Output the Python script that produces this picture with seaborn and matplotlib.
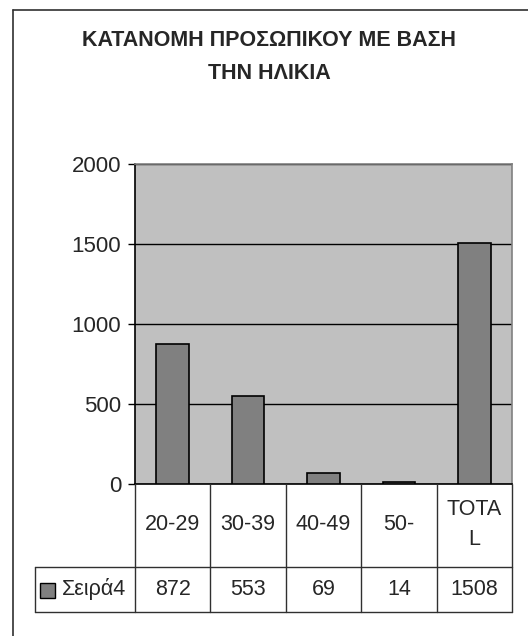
import matplotlib
matplotlib.use("Agg")
import matplotlib.pyplot as plt
from matplotlib.lines import Line2D
from matplotlib.patches import Rectangle
import seaborn as sns
import pandas as pd

# Staff by age group
categories = ["20-29", "30-39", "40-49", "50-", "TOTAL"]
category_labels = ["20-29", "30-39", "40-49", "50-", "TOTA\nL"]
values = [872, 553, 69, 14, 1508]
series_name = "Σειρά4"
title_text = "ΚΑΤΑΝΟΜΗ ΠΡΟΣΩΠΙΚΟΥ ΜΕ ΒΑΣΗ\nΤΗΝ ΗΛΙΚΙΑ"
y_ticks = [0, 500, 1000, 1500, 2000]

sns.set_style("white")
plt.rcParams["font.family"] = ["Liberation Sans", "DejaVu Sans"]

W, H = 528, 636
fig = plt.figure(figsize=(W / 100, H / 100), dpi=100)
fig.patch.set_facecolor("white")


def fx(px):
    return px / W


def fy(py):
    return 1 - py / H


# plot area geometry (pixels)
left, right, top, zero = 135, 512, 164, 484
row_mid, row_bot = 567, 612
legend_left = 35

ax = fig.add_axes([fx(left), fy(zero), fx(right - left), (zero - top) / H])
df = pd.DataFrame({"cat": categories, "val": values})
sns.barplot(data=df, x="cat", y="val", color="#808080", edgecolor="black",
            linewidth=1.2, width=0.43, saturation=1, ax=ax, zorder=3)
ax.set_facecolor("#c0c0c0")
ax.set_xlim(-0.5, len(categories) - 0.5)
ax.set_ylim(0, 2000)
ax.set_yticks(y_ticks)
ax.set_yticklabels([str(t) for t in y_ticks], fontsize=16)
ax.set_xticks([])
ax.set_xlabel("")
ax.set_ylabel("")
ax.yaxis.grid(True, color="black", linewidth=1, zorder=1)
ax.set_axisbelow(True)
ax.tick_params(axis="y", direction="out", length=5, width=1, color="black",
               pad=5, left=True)
for s in ["top", "right"]:
    ax.spines[s].set_color("#808080")
    ax.spines[s].set_linewidth(1.2)
for s in ["left", "bottom"]:
    ax.spines[s].set_color("black")
    ax.spines[s].set_linewidth(1.2)

# data table under the plot
unit = (right - left) / len(categories)
x_leg = -0.5 - (left - legend_left) / unit
tab = fig.add_axes([fx(legend_left), fy(row_bot), fx(right - legend_left),
                    (row_bot - zero) / H])
tab.set_xlim(x_leg, len(categories) - 0.5)
tab.set_ylim(0, row_bot - zero)
tab.axis("off")
hmid = row_bot - row_mid
htot = row_bot - zero
lc = "#303030"
for i in range(len(categories) + 1):
    tab.plot([i - 0.5, i - 0.5], [0, htot], color=lc, lw=1, clip_on=False)
tab.plot([x_leg, x_leg], [0, hmid], color=lc, lw=1, clip_on=False)
tab.plot([x_leg, len(categories) - 0.5], [0, 0], color=lc, lw=1, clip_on=False)
tab.plot([x_leg, len(categories) - 0.5], [hmid, hmid], color=lc, lw=1, clip_on=False)
for i, (lab, v) in enumerate(zip(category_labels, values)):
    tab.text(i, (hmid + htot) / 2 + 1, lab, ha="center", va="center",
             fontsize=15.5, linespacing=1.6)
    tab.text(i, hmid / 2, str(v), ha="center", va="center", fontsize=15.5)
sw = 15 / unit
tab.add_patch(Rectangle((x_leg + 5 / unit, hmid / 2 - 8), sw, 15,
                        facecolor="#808080", edgecolor="black", lw=1,
                        clip_on=False))
tab.text(x_leg + 27 / unit, hmid / 2, series_name, ha="left", va="center",
         fontsize=15.5)

# title
fig.text(fx(269), fy(57), title_text, ha="center", va="center",
         fontsize=15.5, fontweight="bold", linespacing=1.75)

# chart frame
fig.add_artist(Line2D([fx(13), fx(13)], [fy(10), 0], color="#303030", lw=1.2))
fig.add_artist(Line2D([fx(13), 1], [fy(10), fy(10)], color="#303030", lw=1.2))

fig.savefig("out.png", dpi=100)
